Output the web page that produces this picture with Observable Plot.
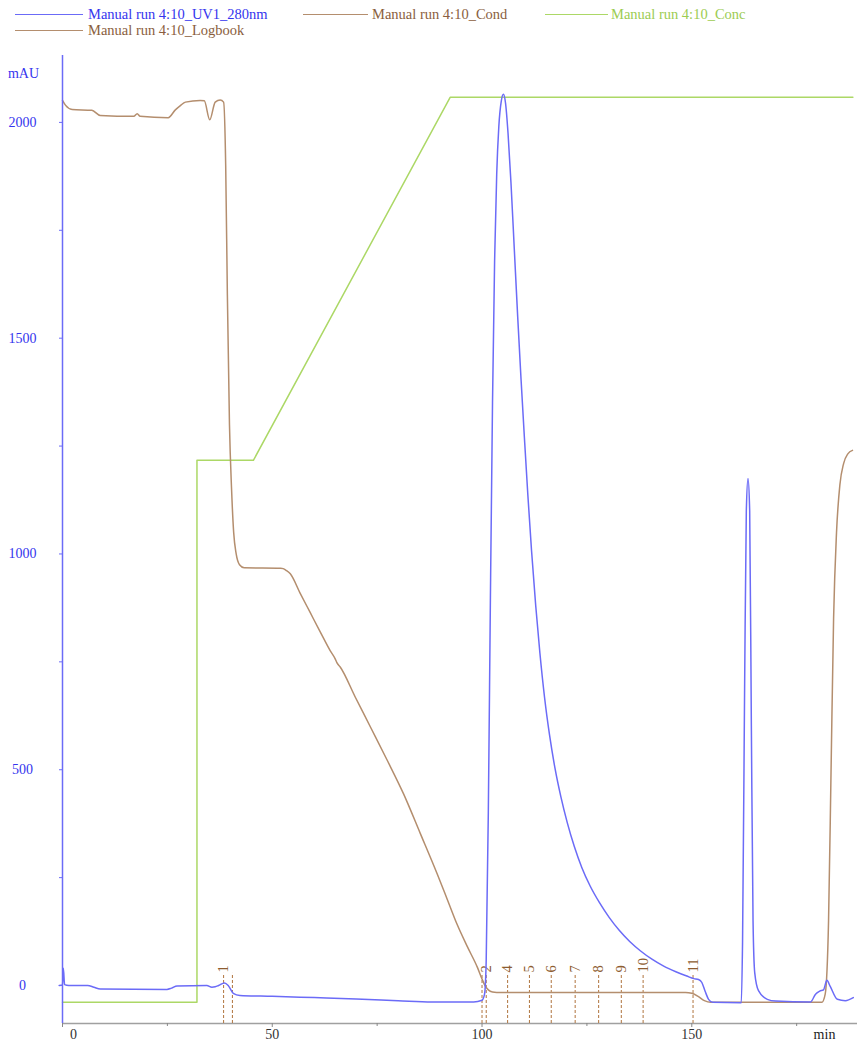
<!DOCTYPE html>
<html>
<head>
<meta charset="utf-8">
<script src="https://cdn.jsdelivr.net/npm/d3@7"></script>
<script src="https://cdn.jsdelivr.net/npm/@observablehq/plot@0.6"></script>
<style>
  html, body { margin: 0; padding: 0; background: #fff; }
  #legend { position: relative; width: 864px; height: 44px; font-family: "Liberation Serif", "Times New Roman", serif; font-size: 14.5px; }
  #legend .ln { position: absolute; height: 0; border-top: 1.4px solid; }
  #legend .tx { position: absolute; line-height: 16px; white-space: nowrap; }
  #chart svg { display: block; }
</style>
</head>
<body>
<div id="legend"></div>
<div id="chart"></div>
<script>
// ---- Data ----
const uvTime = [-0.8, 0.0, 0.2, 0.5, 1.5, 6.0, 7.5, 9.0, 24.9, 26.0, 27.3, 34.4, 35.6, 36.4, 37.2, 38.6, 39.5, 40.7, 42.3, 50, 60, 70, 80, 88, 98,
  100.0, 100.6, 101.0, 101.5, 102.0, 102.5, 103.0, 103.5, 104.0, 104.6, 105.1, 105.6, 106.2, 106.9, 107.7, 108.5, 109.3, 110.1, 110.9, 111.8,
  112.8, 113.8, 114.9, 116.1, 117.4, 118.8, 120.3, 122.0, 123.8, 125.8, 128.0, 130.3, 132.7, 135.2, 137.8, 140.5, 143.3, 146.2, 148.8, 150.5,
  151.6, 152.4, 153.2, 154.0, 155.0,
  161.8, 162.1, 162.6, 163.0, 163.4, 163.8, 164.2, 164.6, 165.0, 165.9, 168.0, 170.0, 178.3, 179.5, 180.5, 181.4, 182.2, 183.0, 184.7, 186.6, 188.5];
const uvValue = [0, 1, 40, 2, 0, 0, -4, -8, -9, -6, -1, 0, -4, -3, 0, 6, 0, -18, -23, -25, -28, -31, -35, -38, -38,
  -34, -20, 60, 400, 900, 1350, 1680, 1880, 1990, 2050, 2065, 2045, 1975, 1860, 1705, 1550, 1405, 1270, 1140, 1008,
  880, 770, 668, 580, 503, 437, 378, 322, 273, 230, 192, 158, 128, 102, 80, 61, 45, 32, 22, 16,
  14, 7, -14, -32, -39,
  -40, 100, 700, 1100, 1175, 1100, 600, 150, 30, -12, -32, -36, -38, -20, -13, -10, 12, -2, -32, -35, -28];

const condTime = [0, 0.7, 2.3, 7.0, 9.0, 17.0, 17.8, 18.5, 25.2, 26.9, 28.1, 29.3, 32.8, 33.8, 35.1, 36.4, 37.6, 38.4, 38.9, 39.3, 39.8, 40.3,
  40.8, 41.4, 42.2, 43.3, 52.0, 52.6, 53.3, 54.3, 56.6, 59.0, 61.4, 63.8, 65.0, 65.4, 66.2, 69.8, 73.4, 77.4, 81.3, 85.3, 89.3, 91.7, 94.0,
  96.5, 98.9, 100.0, 100.7, 101.5, 102.5, 103.5,
  148.5, 150.0, 151.5, 153.0, 154.5, 181.0, 181.8, 182.6, 183.2, 183.8, 184.5, 185.3, 186.2, 187.2, 188.3];
const condValue = [2051, 2040, 2030, 2028, 2016, 2014, 2020, 2014, 2011, 2029, 2039, 2047, 2051, 2050, 2006, 2047, 2052, 2047, 1900, 1600, 1300, 1150,
  1050, 1000, 975, 968, 967, 966, 962, 954, 910, 865, 820, 776, 757, 748, 738, 668, 599, 522, 444, 352, 259, 200, 143,
  90, 42, 15, 0, -10, -15, -16,
  -16, -18, -25, -35, -39, -39, -20, 150, 500, 850, 1050, 1160, 1210, 1232, 1240];

const concTime = [0, 32.05, 32.05, 45.5, 92.4, 188.4];
const concValue = [-39, -39, 1217, 1217, 2058, 2058];

const fracTime = [38.4, 40.5, 100.0, 101.0, 106.1, 111.3, 116.5, 122.2, 127.8, 133.2, 138.4, 150.3];
const fracLabel = ["1", "", "", "2", "4", "5", "6", "7", "8", "9", "10", "11"];

const yTicks = [0, 500, 1000, 1500, 2000];
const yMinor = [250, 750, 1250, 1750];
const xTicks = [0, 50, 100, 150];
const xMinor = [25, 75, 125, 175];

const seriesNames = ["Manual run 4:10_UV1_280nm", "Manual run 4:10_Cond", "Manual run 4:10_Conc", "Manual run 4:10_Logbook"];

// ---- Styles ----
const blue = "#6b6bf7", blueText = "#3535ee";
const brown = "#b48e6e", brownText = "#8a5e3e";
const green = "#acd866", greenText = "#9ccc52";
const logColor = "#b0743e", logText = "#8d5c30";
const fnt = "Liberation Serif, Times New Roman, serif";

// ---- Legend ----
const legend = document.getElementById("legend");
const legendItems = [
  {name: seriesNames[0], line: blue, text: blueText, x1: 15, x2: 83, tx: 88, y: 14},
  {name: seriesNames[1], line: brown, text: brownText, x1: 303, x2: 368, tx: 372, y: 14},
  {name: seriesNames[2], line: green, text: greenText, x1: 545, x2: 608, tx: 611, y: 14},
  {name: seriesNames[3], line: brown, text: brownText, x1: 15, x2: 83, tx: 88, y: 30}
];
for (const it of legendItems) {
  const l = document.createElement("div");
  l.className = "ln";
  l.style.left = it.x1 + "px"; l.style.width = (it.x2 - it.x1) + "px"; l.style.top = it.y + "px";
  l.style.borderColor = it.line;
  legend.appendChild(l);
  const t = document.createElement("div");
  t.className = "tx";
  t.style.left = it.tx + "px"; t.style.top = (it.y - 8) + "px"; t.style.color = it.text;
  t.textContent = it.name;
  legend.appendChild(t);
}

// ---- Chart ----
const uv = uvTime.map((t, i) => ({t, v: uvValue[i]}));
const cond = condTime.map((t, i) => ({t, v: condValue[i]}));
const conc = concTime.map((t, i) => ({t, v: concValue[i]}));
const frac = fracTime.map((t, i) => ({t, label: fracLabel[i]}));
const yMin = -88, yMax = 2155;

const chart = Plot.plot({
  width: 864,
  height: 1008,
  marginTop: 11,
  marginBottom: 29,
  marginLeft: 62,
  marginRight: 7,
  x: {domain: [0, 189.5], axis: null},
  y: {domain: [yMin, yMax], axis: null},
  style: {fontFamily: fnt, fontSize: "14px", background: "#fff", overflow: "visible"},
  marks: [
    // axes
    Plot.ruleY([yMin], {stroke: "#a0a0a0", strokeWidth: 1.5}),
    Plot.axisX(xTicks, {tickSize: 4, text: null, label: null, stroke: "#888"}),
    Plot.axisX(xMinor, {tickSize: 3, text: null, label: null, stroke: "#888"}),
    Plot.text(xTicks.filter(d => d !== 0), {x: d => d, text: d => String(d), frameAnchor: "bottom", dy: 15, fill: "#333", fontSize: 14}),
    Plot.text([0], {x: d => d, text: d => String(d), frameAnchor: "bottom", dy: 15, dx: 11, fill: "#333", fontSize: 14}),
    Plot.text(["min"], {text: d => d, frameAnchor: "bottom-right", dx: -33, dy: 15, textAnchor: "middle", fill: "#222", fontSize: 14}),
    Plot.axisY(yTicks, {tickSize: 3, text: null, label: null, stroke: blue}),
    Plot.axisY(yMinor, {tickSize: 3, text: null, label: null, stroke: blue}),
    Plot.text(yTicks, {y: d => d, text: d => String(d), frameAnchor: "left", dx: -40, textAnchor: "middle", fill: blueText, fontSize: 14}),
    Plot.text(["mAU"], {text: d => d, frameAnchor: "top-left", dx: -39, dy: 13, textAnchor: "middle", fill: blueText, fontSize: 14}),
    // logbook / fractions
    Plot.ruleX(frac, {x: "t", y1: yMin, y2: 28, stroke: logColor, strokeWidth: 1, strokeDasharray: "3,2"}),
    Plot.text(frac.filter(d => d.label), {x: "t", y: 30, text: "label", rotate: -90, textAnchor: "start", fill: logText, fontSize: 14.5}),
    // series
    Plot.line(conc, {x: "t", y: "v", stroke: green, strokeWidth: 1.5}),
    Plot.line(cond, {x: "t", y: "v", stroke: brown, strokeWidth: 1.5, curve: "monotone-x"}),
    Plot.line(uv, {x: "t", y: "v", stroke: blue, strokeWidth: 1.5, curve: "monotone-x"}),
    Plot.ruleX([0], {stroke: blue, strokeWidth: 1.5})
  ]
});
document.getElementById("chart").appendChild(chart);
</script>
</body>
</html>
